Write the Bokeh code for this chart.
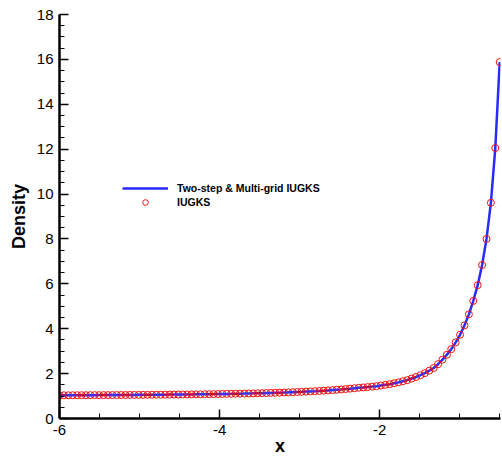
from bokeh.plotting import figure
from bokeh.models import Legend, LegendItem, FixedTicker, Range1d
from bokeh.embed import file_html
from bokeh.resources import INLINE

x_values = [
    -6.000, -5.945, -5.890, -5.835, -5.780, -5.725, -5.670, -5.615, -5.560, -5.505,
    -5.450, -5.395, -5.340, -5.285, -5.230, -5.175, -5.120, -5.065, -5.010, -4.955,
    -4.900, -4.845, -4.790, -4.735, -4.680, -4.625, -4.570, -4.515, -4.460, -4.405,
    -4.350, -4.295, -4.240, -4.185, -4.130, -4.075, -4.020, -3.965, -3.910, -3.855,
    -3.800, -3.745, -3.690, -3.635, -3.580, -3.525, -3.470, -3.415, -3.360, -3.305,
    -3.250, -3.195, -3.140, -3.085, -3.030, -2.975, -2.920, -2.865, -2.810, -2.755,
    -2.700, -2.645, -2.590, -2.535, -2.480, -2.425, -2.370, -2.315, -2.260, -2.205,
    -2.150, -2.095, -2.040, -1.985, -1.930, -1.875, -1.820, -1.765, -1.710, -1.655,
    -1.600, -1.545, -1.490, -1.435, -1.380, -1.325, -1.270, -1.215, -1.160, -1.105,
    -1.050, -0.995, -0.940, -0.885, -0.830, -0.775, -0.720, -0.665, -0.610, -0.555,
    -0.500,
]

density_two_step_multigrid = [
    1.034, 1.035, 1.035, 1.036, 1.037, 1.038, 1.039, 1.040, 1.041, 1.042,
    1.043, 1.044, 1.045, 1.046, 1.047, 1.049, 1.050, 1.051, 1.053, 1.054,
    1.056, 1.057, 1.059, 1.060, 1.062, 1.064, 1.066, 1.068, 1.070, 1.072,
    1.074, 1.077, 1.079, 1.082, 1.085, 1.087, 1.090, 1.093, 1.097, 1.100,
    1.104, 1.107, 1.111, 1.116, 1.120, 1.125, 1.129, 1.135, 1.140, 1.146,
    1.152, 1.158, 1.165, 1.173, 1.181, 1.189, 1.198, 1.207, 1.217, 1.228,
    1.239, 1.252, 1.265, 1.280, 1.295, 1.312, 1.330, 1.349, 1.370, 1.385,
    1.40, 1.42, 1.44, 1.47, 1.50, 1.53, 1.57, 1.61, 1.66, 1.71,
    1.78, 1.85, 1.93, 2.02, 2.13, 2.25, 2.42, 2.62, 2.84, 3.09,
    3.39, 3.73, 4.15, 4.64, 5.24, 5.94, 6.84, 8.00, 9.61, 12.05,
    15.88,
]

density_iugks = [
    1.034, 1.035, 1.035, 1.036, 1.037, 1.038, 1.039, 1.040, 1.041, 1.042,
    1.043, 1.044, 1.045, 1.046, 1.047, 1.049, 1.050, 1.051, 1.053, 1.054,
    1.056, 1.057, 1.059, 1.060, 1.062, 1.064, 1.066, 1.068, 1.070, 1.072,
    1.074, 1.077, 1.079, 1.082, 1.085, 1.087, 1.090, 1.093, 1.097, 1.100,
    1.104, 1.107, 1.111, 1.116, 1.120, 1.125, 1.129, 1.135, 1.140, 1.146,
    1.152, 1.158, 1.165, 1.173, 1.181, 1.189, 1.198, 1.207, 1.217, 1.228,
    1.239, 1.252, 1.265, 1.280, 1.295, 1.312, 1.330, 1.349, 1.370, 1.385,
    1.40, 1.42, 1.44, 1.47, 1.50, 1.53, 1.57, 1.61, 1.66, 1.71,
    1.78, 1.85, 1.93, 2.02, 2.13, 2.25, 2.42, 2.62, 2.84, 3.09,
    3.39, 3.73, 4.15, 4.64, 5.24, 5.94, 6.84, 8.00, 9.61, 12.05,
    15.88,
]

x_major_ticks = [-6, -4, -2]
x_tick_labels = {-6: "-6", -4: "-4", -2: "-2"}
x_minor_ticks = [-5.5, -5, -4.5, -3.5, -3, -2.5, -1.5, -1, -0.5]
y_major_ticks = [0, 2, 4, 6, 8, 10, 12, 14, 16, 18]
y_minor_ticks = [0.5, 1, 1.5, 2.5, 3, 3.5, 4.5, 5, 5.5, 6.5, 7, 7.5, 8.5, 9, 9.5,
                 10.5, 11, 11.5, 12.5, 13, 13.5, 14.5, 15, 15.5, 16.5, 17, 17.5]

FONT = "Liberation Sans"

p = figure(width=502, height=460, output_backend="svg", toolbar_location=None,
           x_range=Range1d(-6, -0.49), y_range=Range1d(0, 18),
           min_border_left=59, min_border_right=2, min_border_top=14,
           min_border_bottom=42)
p.outline_line_color = None
p.xgrid.visible = False
p.ygrid.visible = False
p.background_fill_color = "white"
p.border_fill_color = "white"

p.xaxis.ticker = FixedTicker(ticks=x_major_ticks, minor_ticks=x_minor_ticks)
p.yaxis.ticker = FixedTicker(ticks=y_major_ticks, minor_ticks=y_minor_ticks)
p.xaxis.major_label_overrides = x_tick_labels
p.xaxis.axis_label = "x"
p.yaxis.axis_label = "Density"
for ax in (p.xaxis[0], p.yaxis[0]):
    ax.axis_line_width = 2.5
    ax.axis_line_color = "black"
    ax.major_tick_in = 9
    ax.major_tick_out = 0
    ax.minor_tick_in = 5
    ax.minor_tick_out = 0
    ax.major_tick_line_width = 1.5
    ax.minor_tick_line_width = 1
    ax.major_tick_line_color = "black"
    ax.minor_tick_line_color = "black"
    ax.major_label_text_font = FONT
    ax.major_label_text_font_size = "15px"
    ax.major_label_text_color = "black"
    ax.axis_label_text_font = FONT
    ax.axis_label_text_font_size = "18px"
    ax.axis_label_text_font_style = "bold"
    ax.axis_label_text_color = "black"
p.xaxis.major_label_standoff = 6
p.xaxis.axis_label_standoff = -2
p.yaxis.major_label_standoff = 6
p.yaxis.axis_label_standoff = 5

r_line = p.line(x_values, density_two_step_multigrid, line_color="#2a2aff", line_width=2.5)
r_pts = p.scatter(x_values, density_iugks, marker="circle", size=7, fill_color=None,
                  line_color="#ee1111", line_width=1)

legend = Legend(items=[
    LegendItem(label="Two-step & Multi-grid IUGKS", renderers=[r_line]),
    LegendItem(label="IUGKS", renderers=[r_pts]),
], location=(63, 209))
legend.label_text_font = FONT
legend.label_text_font_size = "10.5px"
legend.label_text_font_style = "bold"
legend.label_text_color = "black"
legend.glyph_width = 46
legend.glyph_height = 14
legend.label_height = 14
legend.label_standoff = 9
legend.spacing = 0
legend.padding = 0
legend.margin = 0
legend.border_line_alpha = 0
legend.background_fill_alpha = 0
p.add_layout(legend)

open("out.html", "w").write(file_html(p, INLINE))
